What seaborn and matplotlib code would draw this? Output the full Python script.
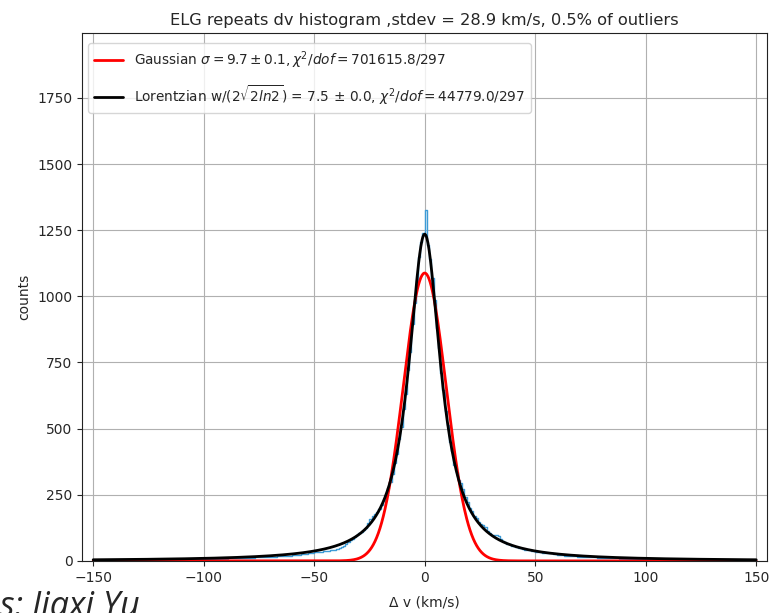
import numpy as np
import pandas as pd
import matplotlib
matplotlib.use("Agg")
import matplotlib.pyplot as plt
import seaborn as sb

# histogram of repeat velocity differences, 1 km/s bins from -150 to 150
dv_lo, dv_hi, bin_w = -150, 150, 1

counts_neg = [
    3, 3, 3, 3, 3, 3, 3, 3, 3, 3,
    3, 3, 3, 4, 4, 4, 4, 4, 4, 4,
    4, 4, 4, 4, 4, 4, 4, 5, 5, 5,
    5, 5, 5, 5, 5, 5, 5, 5, 6, 6,
    6, 6, 6, 6, 6, 6, 7, 7, 7, 7,
    7, 7, 8, 8, 8, 8, 8, 9, 9, 9,
    9, 10, 10, 10, 10, 10, 11, 11, 11, 11,
    12, 12, 12, 13, 13, 13, 14, 14, 14, 15,
    15, 16, 16, 17, 17, 18, 18, 19, 19, 20,
    21, 22, 22, 24, 25, 26, 27, 28, 29, 30,
    32, 33, 33, 35, 37, 36, 38, 40, 40, 42,
    44, 48, 53, 58, 63, 70, 78, 84, 90, 96,
    104, 108, 118, 125, 142, 160, 170, 178, 185, 198,
    212, 228, 250, 275, 300, 330, 370, 405, 462, 505,
    575, 630, 720, 790, 895, 975, 1060, 1150, 1205, 1240,
]
counts_pos = [
    1325, 1195, 1140, 1070, 985, 880, 805, 710, 645, 565,
    515, 450, 415, 362, 335, 305, 295, 270, 240, 222,
    200, 188, 170, 162, 148, 140, 136, 128, 112, 104,
    99, 96, 98, 95, 82, 76, 70, 64, 62, 57,
    55, 52, 50, 47, 45, 42, 42, 40, 37, 36,
    35, 33, 34, 31, 30, 29, 28, 29, 26, 25,
    23, 22, 22, 20, 19, 20, 18, 17, 17, 16,
    16, 15, 15, 14, 14, 13, 13, 13, 12, 12,
    12, 11, 11, 11, 10, 10, 10, 10, 9, 9,
    9, 9, 8, 8, 8, 8, 8, 7, 7, 7,
    7, 7, 7, 6, 6, 6, 6, 6, 6, 6,
    6, 6, 5, 5, 5, 5, 5, 5, 5, 5,
    5, 5, 5, 4, 4, 4, 4, 4, 4, 4,
    4, 4, 4, 4, 4, 4, 4, 3, 3, 3,
    3, 3, 3, 3, 3, 3, 3, 3, 3, 3,
]
counts = counts_neg + counts_pos

# fit results
gauss_amp, gauss_sigma = 1088, 9.7
lor_amp, lor_fwhm = 1235, 17.66

title = "ELG repeats dv histogram ,stdev = 28.9 km/s, 0.5% of outliers"
gauss_label = r"Gaussian $\sigma = 9.7 \pm 0.1, \chi^2/dof = 701615.8/297$"
lor_label = r"Lorentzian w/(2$\sqrt{2ln2}$) = 7.5$\,\pm\,$0.0, $\chi^2/dof = 44779.0/297$"

sb.set_style("ticks", {"axes.grid": True, "grid.color": "#b0b0b0",
                       "axes.edgecolor": "#222222"})

centers = np.arange(dv_lo, dv_hi, bin_w) + bin_w / 2
hist_df = pd.DataFrame({"dv": centers, "n": counts})

fig = plt.figure(figsize=(7.75, 6.13), dpi=100)
ax = fig.add_axes([0.106, 0.085, 0.884, 0.861])

sb.histplot(data=hist_df, x="dv", weights="n", binwidth=bin_w,
            binrange=(dv_lo, dv_hi), element="step", fill=False,
            color="#3d9bd6", linewidth=1, ax=ax)

xs = np.linspace(dv_lo, dv_hi, 1201)
gauss = gauss_amp * np.exp(-xs**2 / (2 * gauss_sigma**2))
lor = lor_amp / (1 + (xs / (lor_fwhm / 2))**2)
sb.lineplot(x=xs, y=gauss, color="red", linewidth=2, label=gauss_label, ax=ax)
sb.lineplot(x=xs, y=lor, color="black", linewidth=2, label=lor_label, ax=ax)

ax.set_xlim(-155, 155)
ax.set_ylim(0, 1995)
ax.set_xticks(np.arange(-150, 151, 50))
ax.set_yticks(np.arange(0, 1751, 250))
ax.grid(True, color="#b0b0b0", linewidth=0.8)
ax.tick_params(labelsize=10, length=3.5)
ax.set_title(title, fontsize=11.7)
ax.set_xlabel("Δ v (km/s)", fontsize=10, labelpad=8)
ax.set_ylabel("counts", fontsize=10)
ax.legend(loc="upper left", bbox_to_anchor=(0.009, 0.981), borderaxespad=0,
          fontsize=9.8, framealpha=0.8, labelspacing=0.9, borderpad=0.45,
          handlelength=2.1)

# credit line, cut by the bottom edge as in the screenshot
fig.text(0.0, -0.005, "s: Jiaxi Yu", ha="left", va="baseline",
         fontsize=24.5, style="italic", family="Open Sans")

fig.savefig("out.png", dpi=100)
